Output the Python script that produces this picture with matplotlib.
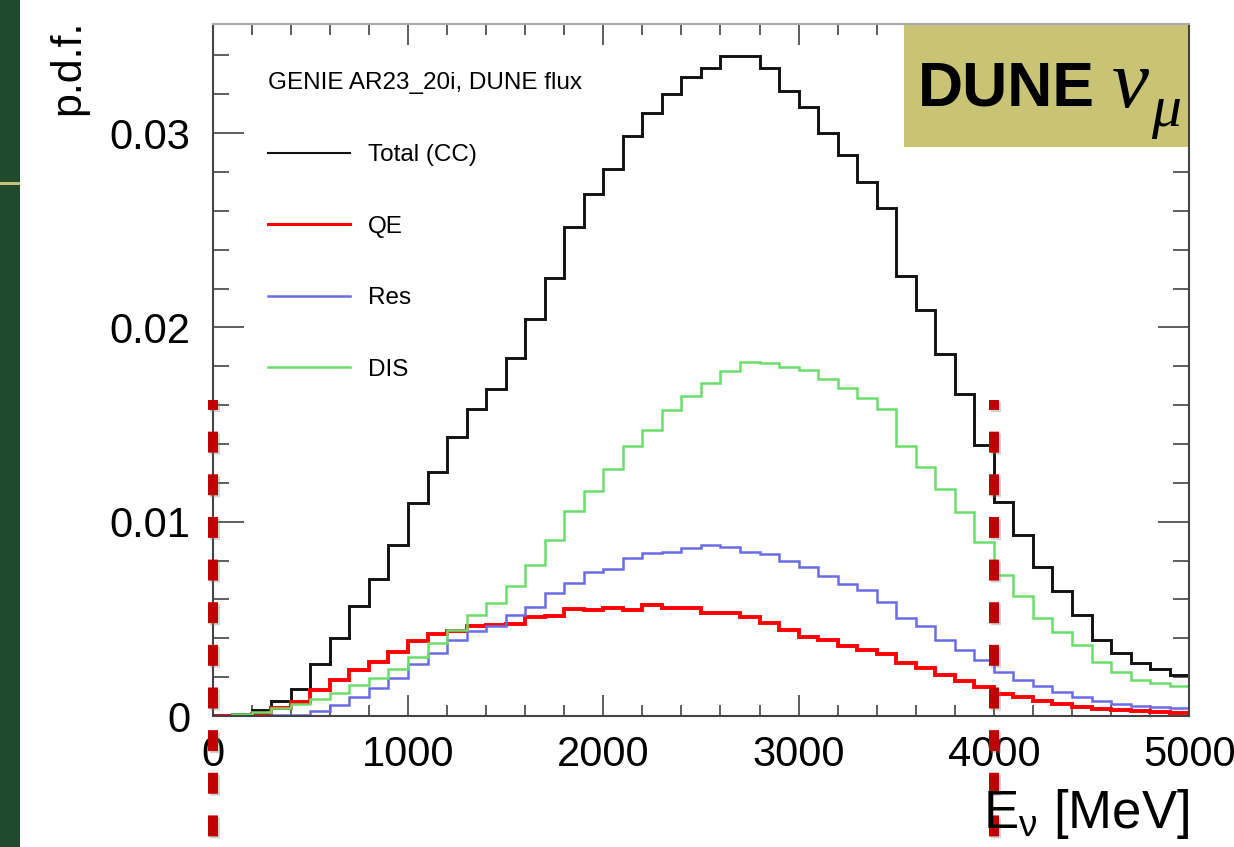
import numpy as np
import matplotlib
matplotlib.use('Agg')
import matplotlib.pyplot as plt
from matplotlib.lines import Line2D
from matplotlib.patches import Rectangle
from matplotlib.ticker import MultipleLocator, FixedLocator, FixedFormatter
from matplotlib.transforms import blended_transform_factory
import matplotlib.patheffects as pe

# ---------------- data (100 MeV bins, 0-5000 MeV) ----------------
bin_edges = np.arange(0, 5001, 100)

total_cc = [0.00003, 0.0001, 0.00033, 0.00078, 0.0014, 0.0027, 0.00403, 0.00566, 0.00704, 0.0088,
            0.01095, 0.01258, 0.01438, 0.01578, 0.01681, 0.01841, 0.02043, 0.02256, 0.02515, 0.02685,
            0.02815, 0.02985, 0.03105, 0.03201, 0.0329, 0.03338, 0.03399, 0.03395, 0.03336, 0.03218,
            0.03133, 0.02999, 0.02887, 0.0275, 0.02613, 0.02266, 0.0209, 0.01861, 0.01656, 0.01395,
            0.011, 0.00932, 0.00765, 0.00645, 0.0052, 0.00391, 0.00326, 0.00271, 0.0024, 0.00212]

qe = [0.0, 0.00002, 0.0001, 0.00043, 0.00072, 0.00136, 0.00187, 0.00235, 0.00278, 0.00329,
      0.00386, 0.0042, 0.00436, 0.00461, 0.0047, 0.00476, 0.00508, 0.00515, 0.00551, 0.00547,
      0.00554, 0.00546, 0.00571, 0.00554, 0.00554, 0.00528, 0.00528, 0.00511, 0.0048, 0.00445,
      0.00406, 0.00391, 0.0036, 0.0034, 0.00319, 0.00275, 0.00248, 0.00213, 0.00181, 0.00151,
      0.00112, 0.00098, 0.00076, 0.0006, 0.00046, 0.00036, 0.00029, 0.00024, 0.0002, 0.00018]

res = [0.0, 0.00001, 0.00002, 0.00003, 0.00005, 0.00026, 0.00055, 0.00098, 0.00146, 0.00197,
       0.0027, 0.00324, 0.0039, 0.00436, 0.00461, 0.0052, 0.00563, 0.00631, 0.00683, 0.00739,
       0.00756, 0.00813, 0.0084, 0.00846, 0.00863, 0.00878, 0.00872, 0.00846, 0.00836, 0.008,
       0.00769, 0.0072, 0.0068, 0.00648, 0.00588, 0.00505, 0.00462, 0.00391, 0.0034, 0.00288,
       0.00225, 0.00185, 0.00152, 0.00123, 0.00098, 0.00078, 0.00063, 0.00052, 0.00044, 0.0004]

dis = [0.00002, 0.00009, 0.0002, 0.00043, 0.00064, 0.0009, 0.00119, 0.00158, 0.00197, 0.0024,
       0.00304, 0.00376, 0.00441, 0.00522, 0.00583, 0.0067, 0.00777, 0.00906, 0.01055, 0.01158,
       0.0127, 0.0139, 0.01472, 0.01575, 0.01647, 0.01712, 0.01777, 0.01824, 0.01818, 0.01794,
       0.01781, 0.01733, 0.01686, 0.01635, 0.01578, 0.0139, 0.0128, 0.01167, 0.01052, 0.00897,
       0.00726, 0.00616, 0.00506, 0.00434, 0.00364, 0.00276, 0.00228, 0.00184, 0.00168, 0.00155]

series_labels = ['Total (CC)', 'QE', 'Res', 'DIS']
legend_title = 'GENIE AR23_20i, DUNE flux'
x_ticks = [0, 1000, 2000, 3000, 4000, 5000]
x_tick_labels = ['0', '1000', '2000', '3000', '4000', '5000']
y_ticks = [0, 0.01, 0.02, 0.03]
y_tick_labels = ['0', '0.01', '0.02', '0.03']
marker_energies = [0, 4000]

# ---------------- figure ----------------
plt.rcParams['font.family'] = ['Liberation Sans', 'DejaVu Sans']
plt.rcParams['lines.scale_dashes'] = False

W, H = 1234, 847
fig = plt.figure(figsize=(W / 100, H / 100), dpi=100)
fig.patch.set_facecolor('white')


def fx(px):
    return px / W


def fy(py):
    return 1 - py / H


# slide decoration on the left
fig.patches.append(Rectangle((0, 0), fx(20), 1, transform=fig.transFigure,
                             facecolor='#1f4b2c', edgecolor='none', zorder=0))
fig.patches.append(Rectangle((0, fy(185)), fx(20), 3 / H, transform=fig.transFigure,
                             facecolor='#c8c070', edgecolor='none', zorder=0.1))

ax = fig.add_axes([fx(212.7), fy(716), (1189.2 - 212.7) / W, (716 - 24) / H])
ax.set_xlim(0, 5000)
ax.set_ylim(0, 0.03562)

styles = [
    dict(color='#111111', lw=2.1),
    dict(color='#ff0000', lw=2.8),
    dict(color='#6b6be8', lw=1.8),
    dict(color='#6ade6a', lw=1.8),
]
for vals, st in zip([total_cc, qe, res, dis], styles):
    ax.stairs(vals, bin_edges, color=st['color'], linewidth=st['lw'], baseline=None, zorder=2)

# ticks
ax.xaxis.set_major_locator(FixedLocator(x_ticks))
ax.xaxis.set_major_formatter(FixedFormatter(x_tick_labels))
ax.yaxis.set_major_locator(FixedLocator(y_ticks))
ax.yaxis.set_major_formatter(FixedFormatter(y_tick_labels))
ax.xaxis.set_minor_locator(MultipleLocator(200))
ax.yaxis.set_minor_locator(MultipleLocator(0.002))
ax.tick_params(which='both', direction='in', top=True, right=True, width=1.1, color='#333333')
ax.xaxis.set_tick_params(which='major', length=15, pad=14, labelsize=30)
ax.xaxis.set_tick_params(which='minor', length=8)
ax.yaxis.set_tick_params(which='major', length=22, pad=16, labelsize=30)
ax.yaxis.set_tick_params(which='minor', length=11.5)
for s in ['left', 'bottom', 'right']:
    ax.spines[s].set_color('#444444')
    ax.spines[s].set_linewidth(1.5)
ax.spines['top'].set_color('#aaaaaa')
ax.spines['top'].set_linewidth(1.5)

# legend
leg_styles = [
    dict(color='#111111', lw=1.5),
    dict(color='#ff0000', lw=2.2),
    dict(color='#6b6be8', lw=1.8),
    dict(color='#6ade6a', lw=1.8),
]
handles = [Line2D([], [], color=s['color'], lw=s['lw']) for s in leg_styles]
leg = ax.legend(handles, series_labels, title=legend_title, loc='upper left',
                bbox_to_anchor=(0.0566, 0.930), frameon=False, fontsize=17.5,
                title_fontsize=17.5, handlelength=3.37, handletextpad=0.74,
                labelspacing=2.04, borderpad=0, borderaxespad=0, alignment='left')

# DUNE box
ax.add_patch(Rectangle((0.708, 0.822), 0.292, 0.178, transform=ax.transAxes,
                       facecolor='#c9c475', edgecolor='none', zorder=2.45))
fig.text(fx(918), fy(106), 'DUNE', fontsize=45, fontweight='bold', ha='left', va='baseline')
fig.text(fx(1112), fy(107), 'ν', fontsize=60, family='Liberation Serif', style='italic',
         ha='left', va='baseline')
fig.text(fx(1151), fy(126), 'μ', fontsize=43, family='Liberation Serif', style='italic',
         ha='left', va='baseline')

# axis titles
fig.text(fx(68), fy(20), 'p.d.f.', rotation=90, fontsize=31, ha='center', va='top')
fig.text(fx(1189), fy(828), r'E$_{\mathregular{ν}}$ [MeV]', fontsize=38, ha='right', va='baseline')

# red dashed overlay lines at 0 and 4000 MeV
trans = blended_transform_factory(ax.transData, fig.transFigure)
for e in marker_energies:
    ax.plot([e, e], [fy(400), 0], transform=trans, color='#c00000', lw=7.2,
            linestyle=(7.9, (15.1, 15.6)), dash_capstyle='butt', clip_on=False, zorder=10,
            path_effects=[pe.SimpleLineShadow(offset=(1.5, -1.5), shadow_color='gray', alpha=0.35),
                          pe.Normal()])

fig.savefig('out.png', dpi=100)
